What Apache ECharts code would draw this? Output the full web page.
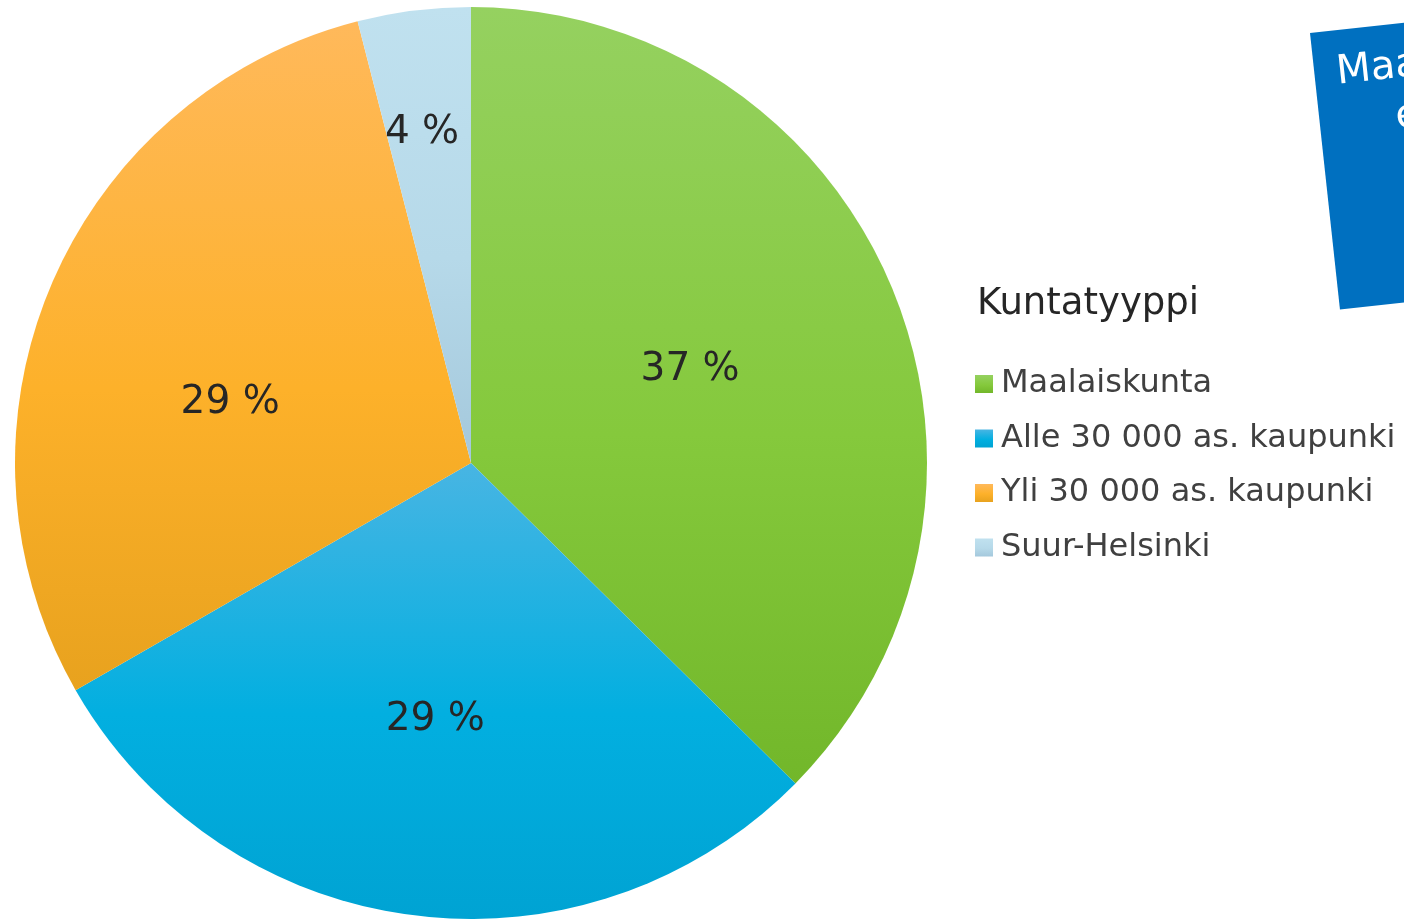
<!DOCTYPE html>
<html>
<head>
<meta charset="utf-8">
<script src="https://cdn.jsdelivr.net/npm/echarts@6/dist/echarts.min.js"></script>
<style>
    html, body { margin: 0; padding: 0; background: #fff; }
    #main { width: 1404px; height: 919px; }
</style>
</head>
<body>
<div id="main"></div>
<script>
var legendTitle = 'Kuntatyyppi';
var categories = ['Maalaiskunta', 'Alle 30 000 as. kaupunki', 'Yli 30 000 as. kaupunki', 'Suur-Helsinki'];
var shares = [37.4, 29.3, 29.3, 4.0];
var boxLines = ['Maatilayritykset', 'eri kuntatyypeissä'];

//slice gradients, top -> middle -> bottom
var sliceColors = [
    ['#95d160', '#85c93c', '#72b72a'],
    ['#48b5e3', '#02afe0', '#00a3d3'],
    ['#ffb95b', '#fdb12a', '#e8a21e'],
    ['#c0e1ef', '#b6d9e9', '#a4c8dc']
];
//label nudges (px) so they sit like the original
var labelShift = [[6, -4], [-6, 28], [-28, 30], [-20, -101]];
var font = 'Verdana, "DejaVu Sans", sans-serif';

function grad(c) {
    return new echarts.graphic.LinearGradient(0, 0, 0, 1, [
        { offset: 0, color: c[0] },
        { offset: 0.55, color: c[1] },
        { offset: 1, color: c[2] }
    ]);
}

var pieData = [];
for (var i = 0; i < categories.length; i++) {
    pieData.push({
        name: categories[i],
        value: shares[i],
        itemStyle: { color: grad(sliceColors[i]) }
    });
}

var myChart = echarts.init(document.getElementById('main'));
var option = {
    backgroundColor: '#fff',
    animation: false,
    title: {
        text: legendTitle,
        left: 977,
        top: 286,
        padding: 0,
        textStyle: { fontFamily: font, fontSize: 37, fontWeight: 'normal', color: '#262626' }
    },
    legend: {
        orient: 'vertical',
        left: 975,
        top: 368,
        padding: 0,
        icon: 'rect',
        itemWidth: 18,
        itemHeight: 18,
        itemGap: 22.5,
        data: categories,
        textStyle: {
            fontFamily: font, fontSize: 32, color: '#404040',
            lineHeight: 32, padding: [0, 0, 0, 3]
        }
    },
    graphic: [{
        type: 'group',
        x: 1310,
        y: 33,
        rotation: 0.108,
        silent: true,
        children: [{
            type: 'rect',
            shape: { x: 0, y: 0, width: 320, height: 278 },
            style: { fill: '#0070c0' }
        }, {
            type: 'text',
            x: 22,
            y: 43,
            style: { text: boxLines[0], fill: '#fff', font: '40px ' + font, verticalAlign: 'middle' }
        }, {
            type: 'text',
            x: 76,
            y: 94,
            style: { text: boxLines[1], fill: '#fff', font: '40px ' + font, verticalAlign: 'middle' }
        }]
    }],
    series: [{
        type: 'pie',
        center: [471, 463],
        radius: [0, 456],
        startAngle: 90,
        clockwise: true,
        avoidLabelOverlap: false,
        label: {
            show: true,
            position: 'inside',
            fontFamily: font,
            fontSize: 39,
            color: '#262626',
            formatter: function (p) {
                return Math.round(p.value) + ' %';
            }
        },
        labelLine: { show: false },
        labelLayout: function (params) {
            var s = labelShift[params.dataIndex];
            return { dx: s[0], dy: s[1] };
        },
        emphasis: { disabled: true },
        data: pieData
    }]
};
myChart.setOption(option);
</script>
</body>
</html>
